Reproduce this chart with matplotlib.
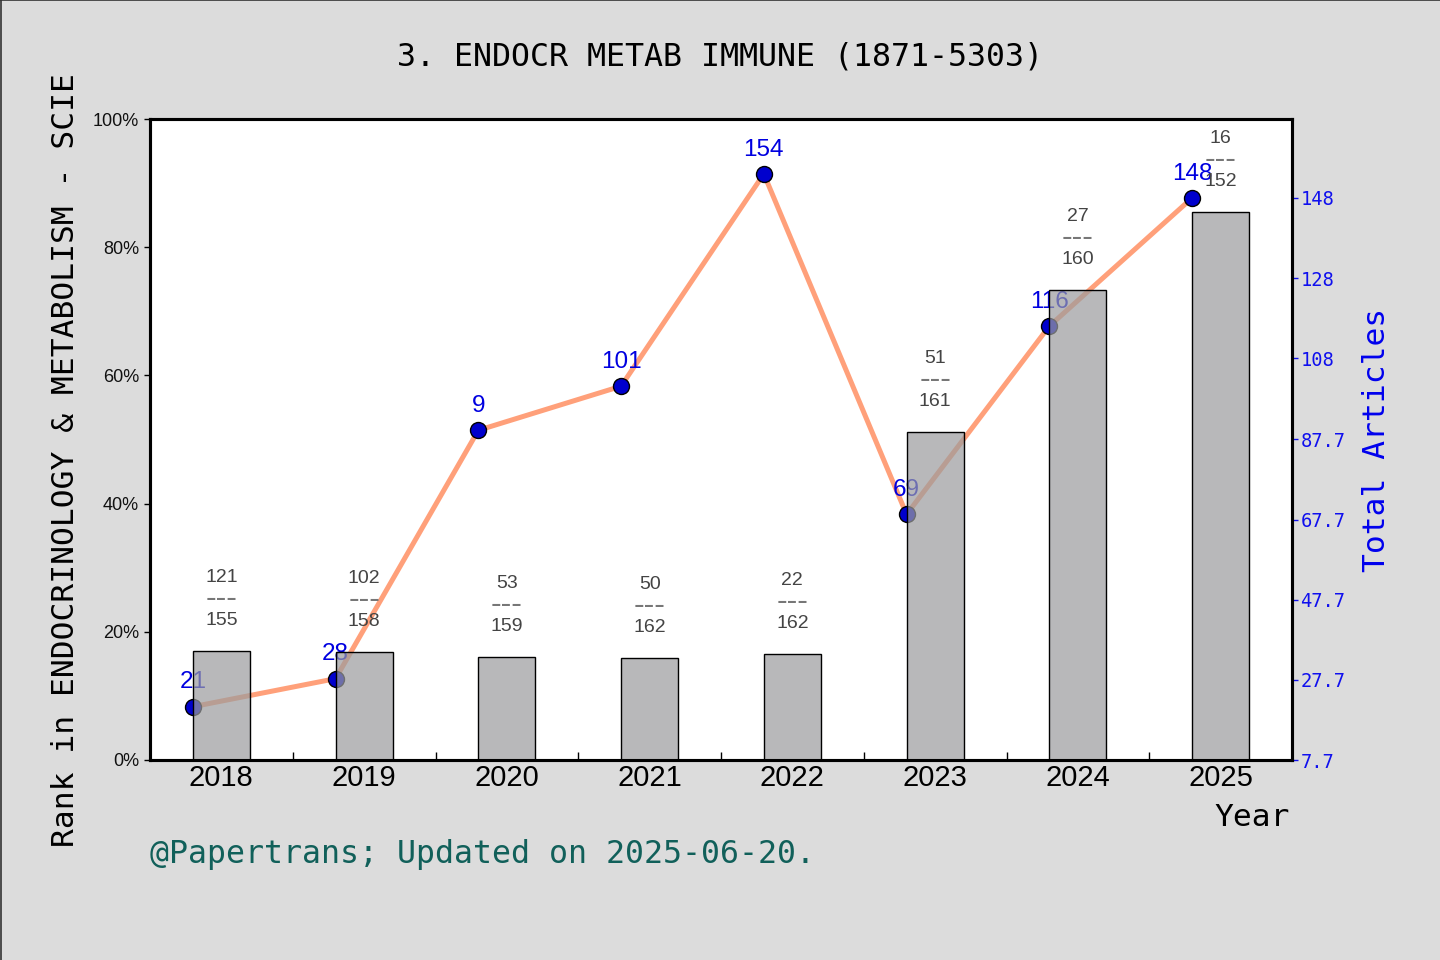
import matplotlib
matplotlib.use("Agg")
import matplotlib.pyplot as plt
from matplotlib.lines import Line2D
import numpy as np

years = ["2018", "2019", "2020", "2021", "2022", "2023", "2024", "2025"]
bar_pct = [17.0, 16.8, 16.0, 15.9, 16.5, 51.1, 73.3, 85.5]
rank = [121, 102, 53, 50, 22, 51, 27, 16]
total_in_cat = [155, 158, 159, 162, 162, 161, 160, 152]
articles = [21, 28, 90, 101, 154, 69, 116, 148]
article_labels = ["21", "28", "9", "101", "154", "69", "116", "148"]
right_ticks = [7.7, 27.7, 47.7, 67.7, 87.7, 108, 128, 148]
right_tick_labels = ["7.7", "27.7", "47.7", "67.7", "87.7", "108", "128", "148"]
left_ticks = [0, 20, 40, 60, 80, 100]
left_tick_labels = ["0%", "20%", "40%", "60%", "80%", "100%"]

MONO = "DejaVu Sans Mono"
SANS = "Liberation Sans"

fig = plt.figure(figsize=(14.4, 9.6), dpi=100)
fig.patch.set_facecolor("#dcdcdc")
fig.add_artist(Line2D([0.0005, 0.0005], [0, 1], transform=fig.transFigure, color="#333333", lw=1.2))
fig.add_artist(Line2D([0, 1], [0.9995, 0.9995], transform=fig.transFigure, color="#333333", lw=1.2))

ax_line = fig.add_axes([150/1440, 200/960, 1142/1440, 641/960])
ax_bar = ax_line.twinx()

x = np.arange(len(years))
xl = x - 0.2

# line (bottom layer)
ax_line.plot(xl, articles, color="#ffa07a", lw=3.6, zorder=2)
ax_line.plot(xl, articles, "o", color="#0000cd", mec="black", mew=1, ms=11.5, zorder=3, ls="none")
for xi, v, lab in zip(xl, articles, article_labels):
    ax_line.annotate(lab, (xi, v), xytext=(0, 17.5), textcoords="offset points",
                     ha="center", va="center", color="#0000e0", fontsize=17.5, family=SANS, zorder=4)
ax_line.set_ylim(7.7, 167.7)
ax_line.set_xlim(-0.5, 7.5)
ax_line.yaxis.tick_right()
ax_line.yaxis.set_label_position("right")
ax_line.set_yticks(right_ticks)
ax_line.set_yticklabels(right_tick_labels, color="#1010ee", fontsize=13.5, family=MONO)
ax_line.set_ylabel("Total Articles", color="#0000ee", fontsize=22.5, family=MONO, labelpad=12)
ax_line.tick_params(axis="y", direction="out", length=4, width=1, pad=2, colors="#1010ee", labelcolor="#1010ee")
ax_line.set_facecolor("white")

# bars (top layer, translucent)
ax_bar.bar(x, bar_pct, width=0.4, color="#9b9c9e", alpha=0.71, edgecolor="none", zorder=2)
ax_bar.bar(x, bar_pct, width=0.4, facecolor="none", edgecolor="black", lw=1, zorder=3)
for xi, h, r, t in zip(x, bar_pct, rank, total_in_cat):
    ax_bar.annotate(str(r), (xi, h), xytext=(0, 37.5 + 15.5), textcoords="offset points",
                    ha="center", va="center", color="#444444", fontsize=14, family=SANS, zorder=5)
    ax_bar.annotate("---", (xi, h), xytext=(0, 37.5), textcoords="offset points",
                    ha="center", va="center", color="#777777", fontsize=23, family=SANS, zorder=5)
    ax_bar.annotate(str(t), (xi, h), xytext=(0, 37.5 - 15.5), textcoords="offset points",
                    ha="center", va="center", color="#444444", fontsize=14, family=SANS, zorder=5)
ax_bar.set_ylim(0, 100)
ax_bar.yaxis.tick_left()
ax_bar.yaxis.set_label_position("left")
ax_bar.set_yticks(left_ticks)
ax_bar.set_yticklabels(left_tick_labels, fontsize=13, family=SANS, color="#111111")
ax_bar.tick_params(axis="y", direction="out", length=4, width=1, pad=4)
ax_bar.set_ylabel("Rank in ENDOCRINOLOGY & METABOLISM - SCIE", fontsize=22.5, family=MONO)
ax_bar.yaxis.set_label_coords(-0.061, 0.468)

ax_line.set_xticks(x)
ax_line.set_xticklabels(years, fontsize=21, family=SANS)
ax_line.set_xticks(x[:-1] + 0.5, minor=True)
ax_line.tick_params(axis="x", which="major", length=0, pad=3)
ax_line.tick_params(axis="x", which="minor", direction="in", length=6, width=1)
ax_bar.tick_params(axis="x", which="both", length=0)

for a in (ax_line, ax_bar):
    for s in a.spines.values():
        s.set_linewidth(2.2)
        s.set_color("black")

fig.text(720/1440, 1 - 57/960, "3. ENDOCR METAB IMMUNE (1871-5303)", ha="center", va="center",
         fontsize=22.8, family=MONO, color="black")
fig.text(1290/1440, 1 - 817/960, "Year", ha="right", va="center", fontsize=22.5, family=MONO, color="black")
fig.text(150/1440, 1 - 855/960, "@Papertrans; Updated on 2025-06-20.", ha="left", va="center",
         fontsize=22.8, family=MONO, color="#11605a")

fig.savefig("out.png", dpi=100, facecolor=fig.get_facecolor())
